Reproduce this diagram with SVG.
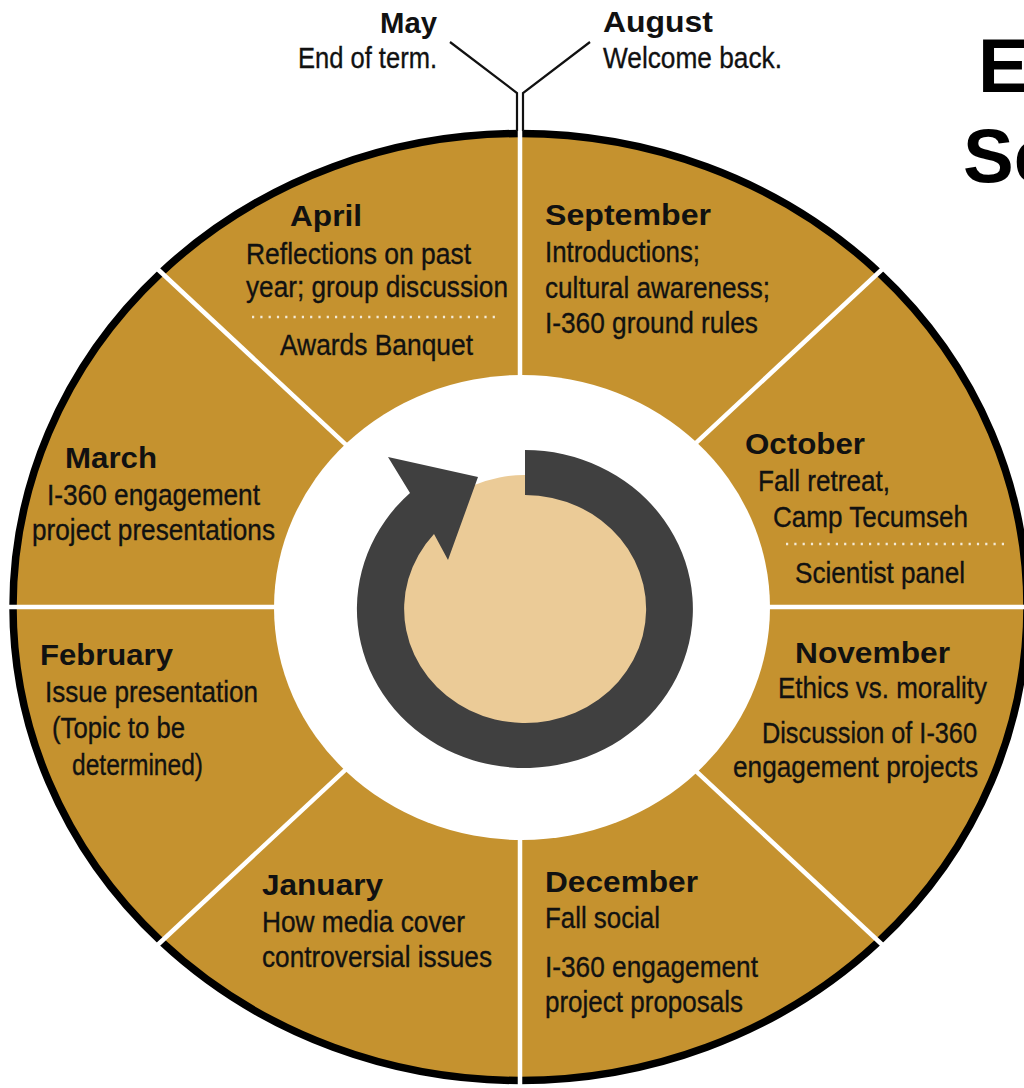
<svg xmlns="http://www.w3.org/2000/svg" width="1024" height="1088" viewBox="0 0 1024 1088">
<style>
.h{font-family:"Liberation Sans",Arial,Helvetica,sans-serif;font-weight:bold;font-size:29px;fill:#111}
.b{font-family:"Liberation Sans",Arial,Helvetica,sans-serif;font-size:30px;fill:#111;stroke:#111;stroke-width:0.35}
.t{font-family:"Liberation Sans",Arial,Helvetica,sans-serif;font-weight:bold;font-size:76px;fill:#000}
.div{stroke:#fff;stroke-width:4.5;fill:none}
.dots{stroke:#f4ead6;stroke-width:2.4;stroke-dasharray:2.2 6.1;fill:none}
.lead{stroke:#111;stroke-width:2.2;fill:none;stroke-linejoin:miter}
</style>
<rect width="1024" height="1088" fill="#fff"/>
<g id="wheel">
<ellipse cx="520" cy="607" rx="507" ry="473.5" fill="#C5922F" stroke="#000" stroke-width="7.5"/>
</g>
<g id="connectors">
<line class="div" x1="520" y1="607" x2="1045" y2="607"/>
<line class="div" x1="520" y1="607" x2="890" y2="952"/>
<line class="div" x1="520" y1="607" x2="520" y2="1095"/>
<line class="div" x1="520" y1="607" x2="150" y2="952"/>
<line class="div" x1="520" y1="607" x2="-5" y2="607"/>
<line class="div" x1="520" y1="607" x2="150" y2="262"/>
<line class="div" x1="520" y1="607" x2="890" y2="262"/>
<line class="div" x1="520" y1="607" x2="520" y2="93"/>
<polyline class="lead" points="450,42 517,93 517,131"/>
<polyline class="lead" points="590,42 523,93 523,131"/>
</g>
<g id="center">
<ellipse cx="522" cy="607.5" rx="248" ry="232.5" fill="#fff"/>
<circle cx="524" cy="601" r="126" fill="#EBCB97"/>
<path d="M525,450 A168,159 0 1 1 410,493 L388,457 L478,477 L448,560 L434,534 A121,114 0 1 0 525,495 Z" fill="#404040"/>
</g>
<g id="may">
<text class="h" x="380" y="33" textLength="57" lengthAdjust="spacingAndGlyphs">May</text>
<text class="b" x="298" y="68" textLength="139" lengthAdjust="spacingAndGlyphs">End of term.</text>
</g>
<g id="august">
<text class="h" x="603" y="32" textLength="110" lengthAdjust="spacingAndGlyphs">August</text>
<text class="b" x="603" y="68" textLength="179" lengthAdjust="spacingAndGlyphs">Welcome back.</text>
</g>
<g id="title">
<text class="t" x="978" y="92">E</text>
<text class="t" x="963" y="182">Se</text>
</g>
<g id="april">
<text class="h" x="290" y="226" textLength="72" lengthAdjust="spacingAndGlyphs">April</text>
<text class="b" x="246" y="264" textLength="225" lengthAdjust="spacingAndGlyphs">Reflections on past</text>
<text class="b" x="246" y="297" textLength="262" lengthAdjust="spacingAndGlyphs">year; group discussion</text>
<line class="dots" x1="252" y1="317" x2="499" y2="317"/>
<text class="b" x="280" y="355" textLength="193" lengthAdjust="spacingAndGlyphs">Awards Banquet</text>
</g>
<g id="september">
<text class="h" x="545" y="225" textLength="166" lengthAdjust="spacingAndGlyphs">September</text>
<text class="b" x="545" y="262" textLength="155" lengthAdjust="spacingAndGlyphs">Introductions;</text>
<text class="b" x="545" y="298" textLength="225" lengthAdjust="spacingAndGlyphs">cultural awareness;</text>
<text class="b" x="545" y="333" textLength="213" lengthAdjust="spacingAndGlyphs">I-360 ground rules</text>
</g>
<g id="october">
<text class="h" x="745" y="454" textLength="120" lengthAdjust="spacingAndGlyphs">October</text>
<text class="b" x="758" y="491" textLength="132" lengthAdjust="spacingAndGlyphs">Fall retreat,</text>
<text class="b" x="773" y="527" textLength="195" lengthAdjust="spacingAndGlyphs">Camp Tecumseh</text>
<line class="dots" x1="786" y1="544" x2="1004" y2="544"/>
<text class="b" x="795" y="583" textLength="170" lengthAdjust="spacingAndGlyphs">Scientist panel</text>
</g>
<g id="november">
<text class="h" x="795" y="663" textLength="155" lengthAdjust="spacingAndGlyphs">November</text>
<text class="b" x="778" y="698" textLength="209" lengthAdjust="spacingAndGlyphs">Ethics vs. morality</text>
<text class="b" x="762" y="743" textLength="215" lengthAdjust="spacingAndGlyphs">Discussion of I-360</text>
<text class="b" x="733" y="777" textLength="245" lengthAdjust="spacingAndGlyphs">engagement projects</text>
</g>
<g id="december">
<text class="h" x="545" y="892" textLength="153" lengthAdjust="spacingAndGlyphs">December</text>
<text class="b" x="545" y="928" textLength="115" lengthAdjust="spacingAndGlyphs">Fall social</text>
<text class="b" x="545" y="977" textLength="213" lengthAdjust="spacingAndGlyphs">I-360 engagement</text>
<text class="b" x="545" y="1012" textLength="198" lengthAdjust="spacingAndGlyphs">project proposals</text>
</g>
<g id="january">
<text class="h" x="262" y="895" textLength="121" lengthAdjust="spacingAndGlyphs">January</text>
<text class="b" x="262" y="932" textLength="203" lengthAdjust="spacingAndGlyphs">How media cover</text>
<text class="b" x="262" y="967" textLength="230" lengthAdjust="spacingAndGlyphs">controversial issues</text>
</g>
<g id="february">
<text class="h" x="40" y="665" textLength="133" lengthAdjust="spacingAndGlyphs">February</text>
<text class="b" x="45" y="702" textLength="213" lengthAdjust="spacingAndGlyphs">Issue presentation</text>
<text class="b" x="52" y="738" textLength="133" lengthAdjust="spacingAndGlyphs">(Topic to be</text>
<text class="b" x="72" y="775" textLength="131" lengthAdjust="spacingAndGlyphs">determined)</text>
</g>
<g id="march">
<text class="h" x="65" y="468" textLength="92" lengthAdjust="spacingAndGlyphs">March</text>
<text class="b" x="47" y="505" textLength="213" lengthAdjust="spacingAndGlyphs">I-360 engagement</text>
<text class="b" x="32" y="540" textLength="243" lengthAdjust="spacingAndGlyphs">project presentations</text>
</g>
</svg>
